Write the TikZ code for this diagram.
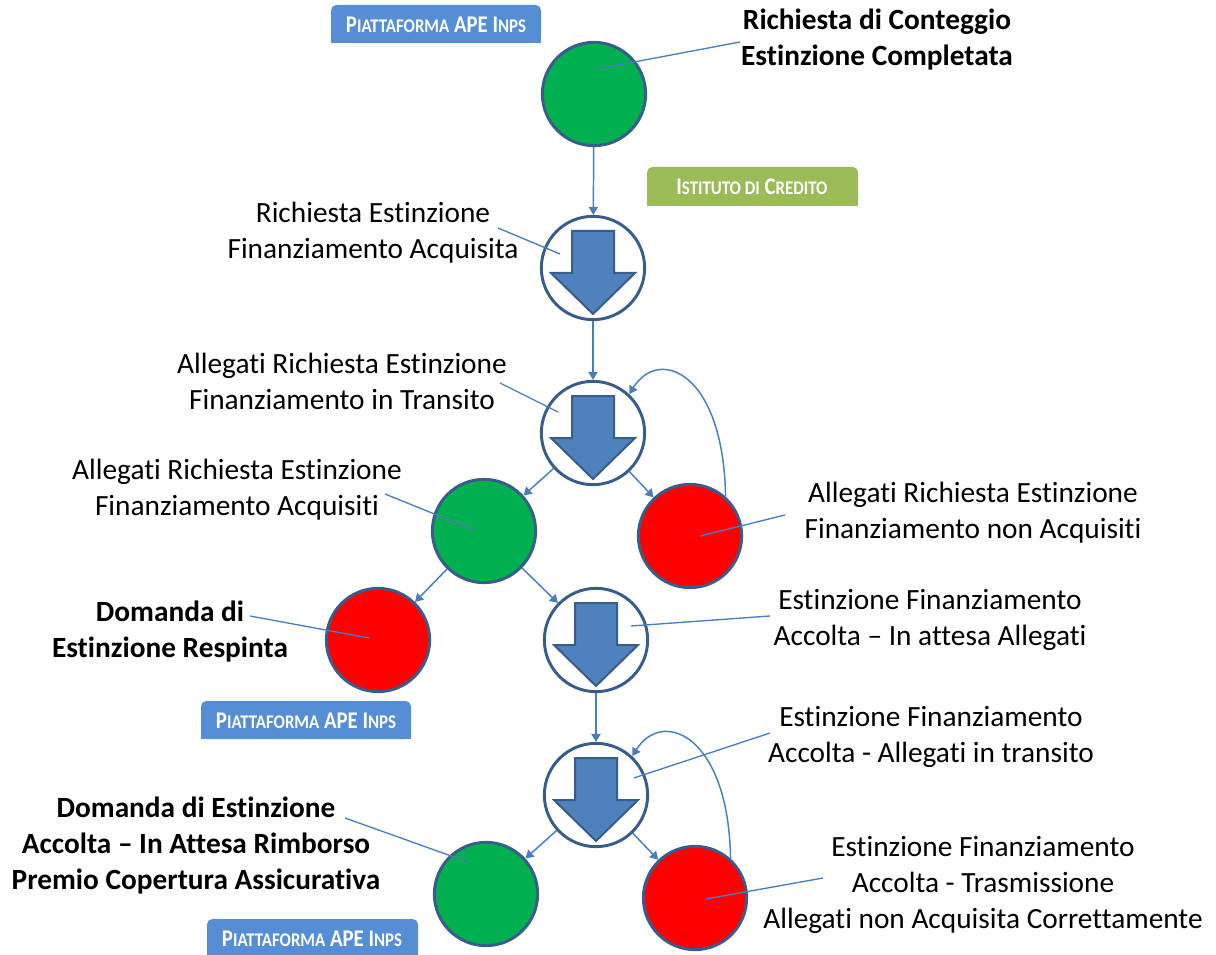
\documentclass[tikz,border=0pt]{standalone}
\usepackage{fontspec}
\setmainfont{Carlito}[Ligatures={TeX,NoCommon}]
\usepackage{graphicx}
\usetikzlibrary{arrows.meta}
\definecolor{conn}{HTML}{4A7EBB}
\definecolor{bord}{HTML}{385D8A}
\definecolor{arrfill}{HTML}{4F81BD}
\definecolor{okgreen}{HTML}{00B050}
\definecolor{tagblue}{HTML}{558ED5}
\definecolor{taggreen}{HTML}{9BBB59}
\newcommand\SCx[1]{{\fontsize{12.6}{13}\selectfont #1}}
\newcommand\blockarr[1]{\draw[blockarrow, shift={(#1)}] (-21,-37) -- (21,-37) -- (21,5) -- (42,5) -- (0,46) -- (-42,5) -- (-21,5) -- cycle;}
\begin{document}
\begin{tikzpicture}[x=0.75pt, y=-0.75pt,
  state/.style={circle, minimum size=77.5pt, inner sep=0pt, line width=2.2pt, draw=bord},
  okstate/.style={state, fill=okgreen},
  kostate/.style={state, fill=red},
  wait/.style={state, fill=white},
  blockarrow/.style={fill=arrfill, draw=bord, line width=1.5pt, line join=miter},
  conn/.style={draw=conn, line width=1.1pt, -{Triangle[length=6pt,width=7pt]}},
  lbl/.style={draw=conn, line width=1pt},
  txt/.style={align=center, inner sep=0pt, font=\fontsize{22}{27}\selectfont},
  btxt/.style={align=center, inner sep=0pt, font=\fontsize{22}{27}\selectfont\bfseries},
  tagtxt/.style={inner sep=0pt, text=white, font=\fontsize{15.6}{17}\selectfont\bfseries}
]
\useasboundingbox (0,0) rectangle (1216,955);

% tags
\fill[tagblue, rounded corners=4pt] (331,5) rectangle (541,43);
\fill[tagblue] (331,24) rectangle (541,43);
\node[tagtxt] (tag1) at (436,25) {\scalebox{1}[1.15]{P\SCx{IATTAFORMA} APE I\SCx{NPS}}};
\fill[taggreen, rounded corners=4pt] (647,167) rectangle (858,206);
\fill[taggreen] (647,186) rectangle (858,206);
\node[tagtxt] (tag2) at (752,187) {\scalebox{1}[1.15]{I\SCx{STITUTO DI} C\SCx{REDITO}}};
\fill[tagblue, rounded corners=4pt] (201,701) rectangle (411,739);
\fill[tagblue] (201,720) rectangle (411,739);
\node[tagtxt] (tag3) at (306,721) {\scalebox{1}[1.15]{P\SCx{IATTAFORMA} APE I\SCx{NPS}}};
\fill[tagblue, rounded corners=4pt] (207,919) rectangle (418,957);
\fill[tagblue] (207,938) rectangle (418,957);
\node[tagtxt] (tag4) at (312,939) {\scalebox{1}[1.15]{P\SCx{IATTAFORMA} APE I\SCx{NPS}}};

% states
\node[okstate] (g1) at (594,94) {};
\node[wait] (a1) at (593,268) {};
\node[wait] (a2) at (593,433) {};
\node[okstate] (g2) at (484,531) {};
\node[kostate] (r1) at (690,536) {};
\node[kostate] (r2) at (378,640) {};
\node[wait] (a3) at (596,640) {};
\node[wait] (a4) at (596,795) {};
\node[okstate] (g3) at (486,894) {};
\node[kostate] (r3) at (695,898) {};

\blockarr{a1}
\blockarr{a2}
\blockarr{a3}
\blockarr{a4}

% texts
\node[btxt] (t1) at (877,40) {Richiesta di Conteggio\\Estinzione Completata};
\node[txt] (t2) at (373,233) {Richiesta Estinzione\\Finanziamento Acquisita};
\node[txt] (t3) at (342,381) {Allegati Richiesta Estinzione\\Finanziamento in Transito};
\node[txt] (t4) at (237,490) {Allegati Richiesta Estinzione\\Finanziamento Acquisiti};
\node[txt] (t5) at (973,513) {Allegati Richiesta Estinzione\\Finanziamento non Acquisiti};
\node[btxt] (t6) at (170,632) {Domanda di\\Estinzione Respinta};
\node[txt] (t7) at (930,620) {Estinzione Finanziamento\\Accolta – In attesa Allegati};
\node[txt] (t8) at (931,737) {Estinzione Finanziamento\\Accolta - Allegati in transito};
\node[btxt] (t9) at (196,846) {Domanda di Estinzione\\Accolta – In Attesa Rimborso\\Premio Copertura Assicurativa};
\node[txt] (t10) at (983,885) {Estinzione Finanziamento\\Accolta - Trasmissione\\Allegati non Acquisita Correttamente};

% label line ends
\coordinate (p1a) at (597,69);   \coordinate (p1b) at (740,42);
\coordinate (p2a) at (560,254);  \coordinate (p2b) at (498,228);
\coordinate (p3a) at (558,412);  \coordinate (p3b) at (500,383);
\coordinate (p4a) at (474,530);  \coordinate (p4b) at (385,494);
\coordinate (p5a) at (700,536);  \coordinate (p5b) at (785,515);
\coordinate (p6a) at (369,638);  \coordinate (p6b) at (250,616);
\coordinate (p7a) at (631,626);  \coordinate (p7b) at (770,616);
\coordinate (p8a) at (634,778);  \coordinate (p8b) at (770,733);
\coordinate (p9a) at (468,862);  \coordinate (p9b) at (345,818);
\coordinate (p10a) at (706,899); \coordinate (p10b) at (823,878);
\foreach \i in {1,...,10} {\draw[lbl] (p\i a) -- (p\i b);}

% connectors
\draw[conn] (g1) -- (a1);
\draw[conn] (a1) -- (a2);
\draw[conn] (a2) -- (g2);
\draw[conn] (a2) -- (r1);
\draw[conn] (g2) -- (r2);
\draw[conn] (g2) -- (a3);
\draw[conn] (a3) -- (a4);
\draw[conn] (a4) -- (g3);
\draw[conn] (a4) -- (r3);
\draw[conn] (r1.48) .. controls +(-2,-124) and +(30,-48) .. (a2.47);
\draw[conn] (r3.48) .. controls +(-2,-124) and +(30,-48) .. (a4.47);
\end{tikzpicture}
\end{document}
